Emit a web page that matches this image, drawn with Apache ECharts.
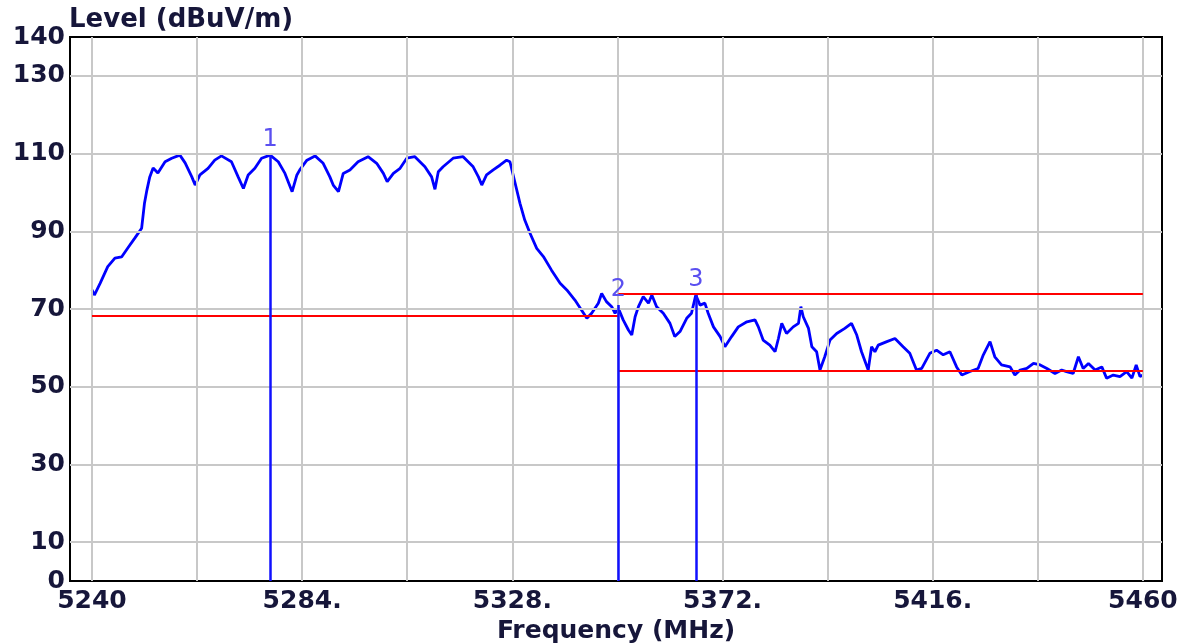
<!DOCTYPE html>
<html>
<head>
<meta charset="utf-8">
<title>Level (dBuV/m)</title>
<script src="https://cdn.jsdelivr.net/npm/echarts@6/dist/echarts.min.js"></script>
<style>
  html, body { margin: 0; padding: 0; background: #fff; }
  #graph { width: 1191px; height: 643px; }
</style>
</head>
<body>
<div id="graph"></div>
<script>
"use strict"

// trace, MHz / dBuV/m
const freq = [5240.0, 5240.5, 5241.7, 5243.3, 5244.8, 5246.2, 5247.5, 5249.0, 5250.4, 5251.0,
    5251.5, 5252.1, 5252.8, 5253.8, 5255.3, 5256.7, 5258.4, 5259.5, 5260.9, 5261.6,
    5262.6, 5264.3, 5265.7, 5267.1, 5269.2, 5270.6, 5271.7, 5272.7, 5274.1, 5275.5,
    5277.3, 5279.0, 5280.4, 5281.9, 5282.9, 5283.5, 5285.0, 5286.7, 5288.4, 5289.8,
    5290.5, 5291.6, 5292.6, 5294.0, 5295.7, 5297.8, 5299.6, 5301.0, 5301.8, 5303.1,
    5304.5, 5305.9, 5307.6, 5309.7, 5311.1, 5311.8, 5312.5, 5313.5, 5315.6, 5317.7,
    5319.8, 5320.9, 5321.6, 5322.6, 5324.0, 5325.4, 5326.8, 5327.5, 5328.6, 5329.6,
    5330.6, 5331.7, 5333.1, 5334.5, 5336.2, 5338.0, 5339.4, 5341.1, 5342.5, 5343.6,
    5344.6, 5346.0, 5346.7, 5347.7, 5348.8, 5349.5, 5350.2, 5351.2, 5352.3, 5353.0,
    5353.7, 5354.4, 5355.4, 5356.5, 5357.2, 5358.2, 5359.6, 5361.0, 5362.0, 5363.1,
    5364.5, 5365.5, 5366.4, 5367.3, 5368.3, 5369.0, 5370.1, 5371.5, 5372.5, 5373.9,
    5375.3, 5377.1, 5378.8, 5379.5, 5380.5, 5381.9, 5383.0, 5383.7, 5384.4, 5385.4,
    5386.8, 5387.9, 5388.4, 5388.9, 5390.0, 5390.7, 5391.7, 5392.4, 5393.4, 5394.5,
    5395.9, 5397.6, 5399.0, 5400.1, 5401.1, 5402.5, 5403.2, 5403.9, 5404.6, 5406.4,
    5408.1, 5409.8, 5411.2, 5412.6, 5413.7, 5415.4, 5416.8, 5418.2, 5419.6, 5421.0,
    5422.1, 5423.8, 5425.5, 5426.6, 5428.0, 5429.0, 5430.4, 5432.2, 5433.2, 5434.3,
    5435.7, 5437.1, 5438.5, 5439.9, 5441.6, 5443.0, 5444.0, 5445.4, 5446.5, 5447.5,
    5448.6, 5450.0, 5451.4, 5452.4, 5453.8, 5455.2, 5456.6, 5457.7, 5458.6, 5459.4,
    5460.0];
const level = [74.9, 73.6, 76.6, 80.9, 83.1, 83.4, 85.7, 88.3, 90.8, 97.3,
    100.6, 104, 106.3, 105, 107.9, 108.8, 109.6, 107.6, 104, 101.9,
    104.5, 106.2, 108.3, 109.4, 107.9, 104, 101, 104.5, 106.2, 108.8,
    109.6, 107.9, 104.9, 100.2, 104.5, 105.8, 108.3, 109.4, 107.5, 104,
    101.9, 100.2, 104.9, 105.8, 107.9, 109.2, 107.5, 104.9, 102.8, 104.9,
    106.2, 108.8, 109.2, 106.6, 104, 100.8, 105.3, 106.6, 108.8, 109.2,
    106.6, 104, 101.9, 104.5, 105.8, 107, 108.3, 107.9, 102.3, 97.2,
    92.9, 89.5, 85.6, 83.5, 80, 76.6, 74.9, 72.3, 69.7, 67.6,
    68.9, 71.5, 74, 71.9, 70.6, 68.9, 70.2, 67.2, 64.6, 63.3,
    68, 70.6, 73.2, 71.5, 73.6, 70.6, 68.9, 66.3, 62.9, 64.2,
    67.6, 68.9, 73.6, 71, 71.5, 68.9, 65.4, 62.9, 60.3, 62.9,
    65.4, 66.7, 67.2, 65.4, 62, 60.7, 59, 62.4, 66.3, 63.7,
    65.4, 66.3, 70.6, 68, 65, 60.3, 59, 54.3, 57.7, 62,
    63.7, 65, 66.3, 63.3, 59, 54.3, 60.3, 59, 60.7, 61.6,
    62.4, 60.3, 58.6, 54.3, 54.7, 58.6, 59.4, 58.2, 59, 55.1,
    53, 53.9, 54.7, 58.2, 61.6, 57.7, 55.6, 55.1, 53, 54.3,
    54.7, 56, 55.6, 54.7, 53.4, 54.3, 53.9, 53.4, 57.7, 54.7,
    56, 54.3, 55.1, 52.2, 53, 52.6, 53.9, 52.2, 55.6, 52.6,
    53];

// markers
const markerName = ["1", "2", "3"];
const markerFreq = [5277.3, 5350.2, 5366.4];
const markerLevel = [109.6, 71.0, 73.6];

// limit lines [from, to, level]
const limitLines = [[5240, 5350.2, 68.2], [5350.2, 5460, 74], [5350.2, 5460, 54]];

// axes
const xLabels = [5240, 5284, 5328, 5372, 5416, 5460];
const xGrid = [5240, 5262, 5284, 5306, 5328, 5350, 5372, 5394, 5416, 5438, 5460];
const yLabels = [0, 10, 30, 50, 70, 90, 110, 130, 140];
const yGrid = [10, 30, 50, 70, 90, 110, 130];

const txtCol = "#16163a";
const font = "DejaVu Sans";

const myChart = echarts.init(document.getElementById("graph"), null, { renderer: "canvas" });

const option = {
    animation: false,
    backgroundColor: "#fff",
    title: {
        text: "Level (dBuV/m)",
        left: 69, top: 7, padding: 0,
        textStyle: { fontFamily: font, fontWeight: "bold", fontSize: 26, color: txtCol }
    },
    grid: {
        left: 70, right: 29, top: 37, bottom: 62,
        outerBoundsMode: "none", containLabel: false,
        show: true, borderColor: "#000", borderWidth: 2, backgroundColor: "#fff"
    },
    xAxis: {
        type: "value",
        min: 5235.4, max: 5464,
        name: "Frequency (MHz)",
        nameLocation: "middle",
        nameGap: 33,
        nameTextStyle: { fontFamily: font, fontWeight: "bold", fontSize: 25, color: txtCol },
        axisLine: { show: false },
        axisTick: { show: false },
        splitLine: { show: false },
        axisLabel: {
            customValues: xLabels,
            margin: 8,
            fontFamily: font, fontWeight: "bold", fontSize: 25, color: txtCol,
            formatter: v => (v === xLabels[0] || v === xLabels[xLabels.length - 1]) ? String(v) : v + "."
        }
    },
    yAxis: {
        type: "value",
        min: 0, max: 140,
        axisLine: { show: false },
        axisTick: { show: false },
        splitLine: { show: false },
        axisLabel: {
            customValues: yLabels,
            margin: 5,
            fontFamily: font, fontWeight: "bold", fontSize: 25, color: txtCol
        }
    },
    series: [
        {
            // grid lines
            type: "line", data: [], z: 1, silent: true,
            markLine: {
                silent: true, symbol: "none",
                label: { show: false },
                lineStyle: { color: "#c8c8c8", width: 2, type: "solid" },
                data: xGrid.map(v => ({ xAxis: v })).concat(yGrid.map(v => ({ yAxis: v })))
            }
        },
        {
            // limits
            type: "line", data: [], z: 2, silent: true,
            markLine: {
                silent: true, symbol: "none",
                label: { show: false },
                lineStyle: { color: "#ff0000", width: 2, type: "solid" },
                data: limitLines.map(l => [{ coord: [l[0], l[2]] }, { coord: [l[1], l[2]] }])
            }
        },
        {
            type: "line",
            z: 3,
            data: freq.map((f, i) => [f, level[i]]),
            showSymbol: false,
            lineStyle: { color: "#0000ff", width: 2.8 },
            markLine: {
                silent: true, symbol: "none",
                lineStyle: { color: "#1010ff", width: 2.5, type: "solid" },
                label: {
                    show: true, position: "end", distance: 3,
                    formatter: p => p.name,
                    fontFamily: font, fontSize: 24, color: "#5a4ff0"
                },
                data: markerName.map((n, i) => [
                    { name: n, coord: [markerFreq[i], 0] },
                    { coord: [markerFreq[i], markerLevel[i]] }
                ])
            }
        }
    ]
};
myChart.setOption(option);
</script>
</body>
</html>
